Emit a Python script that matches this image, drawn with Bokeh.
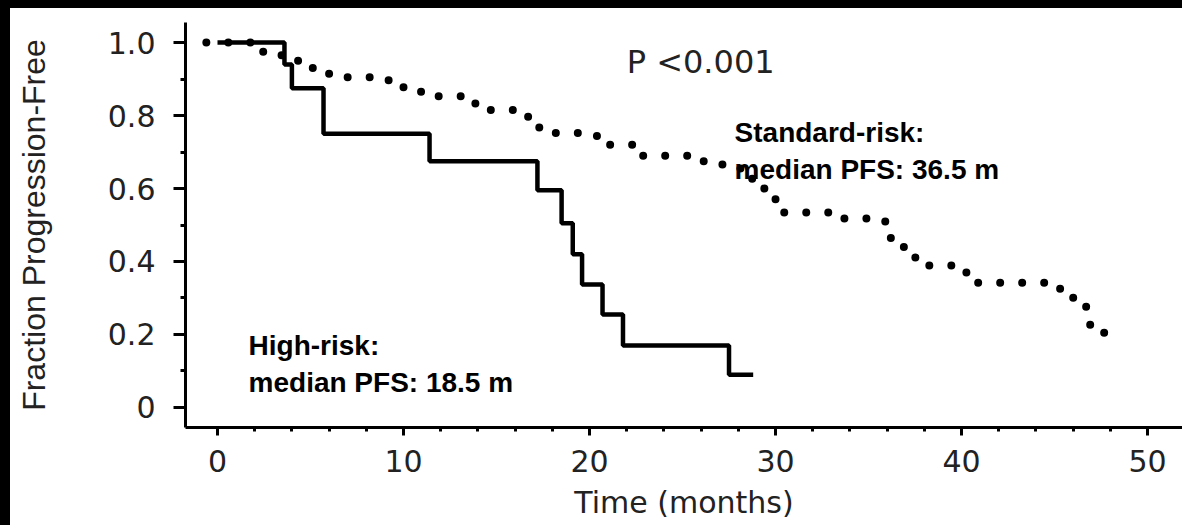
from bokeh.plotting import figure
from bokeh.models import Range1d, SingleIntervalTicker, CustomJSTickFormatter, Div
from bokeh.layouts import column, row
from bokeh.core.properties import value
from bokeh.embed import file_html
from bokeh.resources import INLINE

# High-risk group (solid step curve)
hr_time = [0, 3.6, 4.0, 5.7, 11.4, 17.2, 18.5, 19.1, 19.6, 20.7, 21.8, 27.5, 28.8]
hr_surv = [1.0, 0.94, 0.875, 0.75, 0.675, 0.595, 0.505, 0.42, 0.337, 0.255, 0.17, 0.09, 0.09]

# Standard-risk group (dotted step curve)
sr_time = [-0.6, 2.0, 3.0, 4.0, 4.6, 5.2, 6.0, 9.2, 10.0, 10.9, 11.8, 13.5, 14.2, 16.1,
           16.7, 17.3, 20.4, 21.1, 22.8, 25.8, 26.6, 27.6, 28.2, 28.8, 29.4, 30.0, 30.3,
           33.2, 35.9, 36.2, 36.9, 37.5, 38.0, 39.8, 40.3, 44.7, 45.3, 46.7, 46.8, 47.0, 48.6]
sr_surv = [1.0, 0.975, 0.965, 0.95, 0.93, 0.918, 0.905, 0.89, 0.877, 0.865, 0.853, 0.833,
           0.815, 0.797, 0.773, 0.752, 0.74, 0.72, 0.69, 0.675, 0.666, 0.655, 0.627, 0.611,
           0.595, 0.567, 0.534, 0.518, 0.477, 0.449, 0.433, 0.411, 0.389, 0.37, 0.342, 0.337,
           0.301, 0.271, 0.227, 0.205, 0.205]

x_title = "Time (months)"
y_title = "Fraction Progression-Free"
p_text = "P <0.001"
hr_label = ["High-risk:", "median PFS: 18.5 m"]
sr_label = ["Standard-risk:", "median PFS: 36.5 m"]

p = figure(width=1172, height=517, output_backend="svg", toolbar_location=None,
           x_range=Range1d(-1.72, 51.88), y_range=Range1d(-0.0548, 1.0548),
           min_border_left=175, min_border_right=0, min_border_top=14, min_border_bottom=98,
           margin=0)
p.outline_line_color = None
p.grid.visible = False
p.background_fill_color = "white"
p.border_fill_color = "white"

p.xaxis.ticker = SingleIntervalTicker(interval=10, num_minor_ticks=5)
p.yaxis.ticker = SingleIntervalTicker(interval=0.2, num_minor_ticks=2)
p.yaxis.formatter = CustomJSTickFormatter(code="return Math.abs(tick) < 1e-9 ? '0' : tick.toFixed(1);")

for ax in (p.xaxis[0], p.yaxis[0]):
    ax.axis_line_width = 3
    ax.axis_line_color = "black"
    ax.major_tick_line_width = 3
    ax.minor_tick_line_width = 3
    ax.major_tick_line_color = "black"
    ax.minor_tick_line_color = "black"
    ax.major_tick_in = 0
    ax.minor_tick_in = 0
    ax.major_label_text_font = "DejaVu Sans"
    ax.major_label_text_font_size = "30px"
    ax.major_label_text_color = "#222222"
    ax.axis_label_text_font_style = "normal"
    ax.axis_label_text_color = "#222222"

p.xaxis.major_tick_out = 8
p.xaxis.minor_tick_out = 4
p.xaxis.major_label_standoff = 14
p.xaxis.axis_label = x_title
p.xaxis.axis_label_text_font = "DejaVu Sans"
p.xaxis.axis_label_text_font_size = "30px"
p.xaxis.axis_label_standoff = 10

p.yaxis.major_tick_out = 12
p.yaxis.minor_tick_out = 5
p.yaxis.major_label_standoff = 18
p.yaxis.axis_label = y_title
p.yaxis.axis_label_text_font = "Liberation Sans"
p.yaxis.axis_label_text_font_size = "32px"
p.yaxis.axis_label_standoff = 53

# curves
p.step(hr_time, hr_surv, mode="after", line_color="black", line_width=4.5)
p.step(sr_time, sr_surv, mode="after", line_color="black", line_width=8,
       line_dash="0 22", line_cap="round")

# annotations
p.text(x=[22.0], y=[0.947], text=[p_text], text_font=value("DejaVu Sans"),
       text_font_size="32px", text_color="#222222", text_baseline="alphabetic")
p.text(x=[1.67, 1.67], y=[0.17, 0.068], text=hr_label, text_font=value("Liberation Sans"),
       text_font_style="bold", text_font_size="28px", text_color="black",
       text_baseline="alphabetic")
p.text(x=[27.8, 27.8], y=[0.753, 0.652], text=sr_label, text_font=value("Liberation Sans"),
       text_font_style="bold", text_font_size="28px", text_color="black",
       text_baseline="alphabetic")

top = Div(width=1182, height=8, margin=0, styles={"background-color": "black"})
left = Div(width=10, height=517, margin=0, styles={"background-color": "black"})
layout = column(top, row(left, p, spacing=0, margin=0), spacing=0, margin=0)

open("out.html", "w").write(file_html(layout, INLINE))
